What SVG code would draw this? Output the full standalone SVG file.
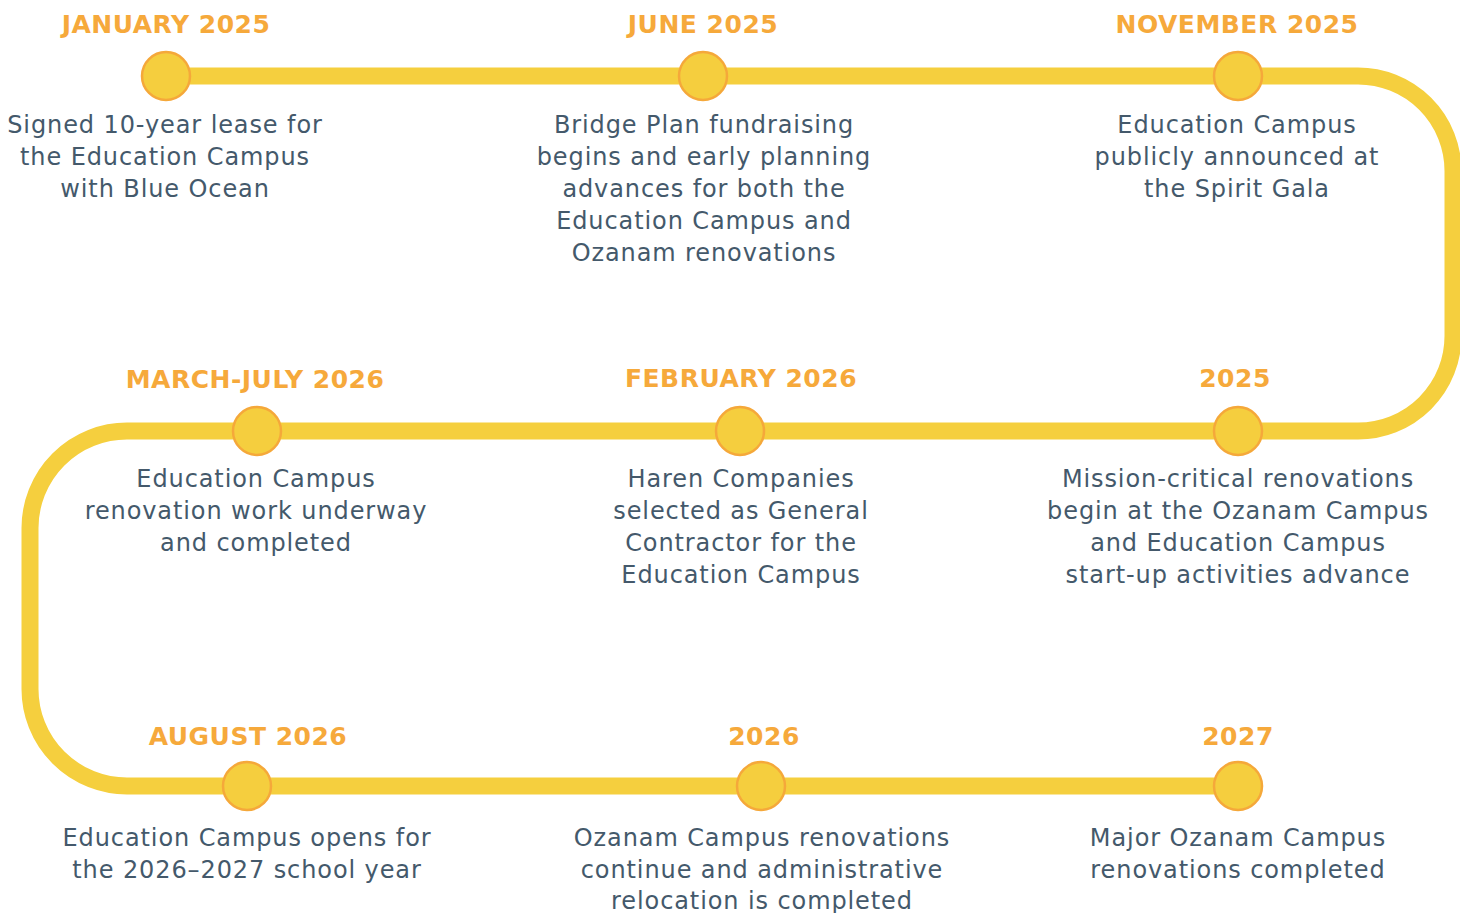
<svg xmlns="http://www.w3.org/2000/svg" width="1460" height="913" viewBox="0 0 1460 913">
<style>
.track{fill:none;stroke:#F5CF3E;stroke-width:17;stroke-linejoin:round}
.dot{fill:#F5CE3E;stroke:#F5A83A;stroke-width:2.5}
.hd{font-family:"DejaVu Sans","Liberation Sans",sans-serif;font-weight:bold;font-size:25px;letter-spacing:0.5px;fill:#F6A93B;text-anchor:middle}
.bd{font-family:"DejaVu Sans","Liberation Sans",sans-serif;font-size:24px;letter-spacing:0.9px;fill:#44596B;text-anchor:middle}
</style>
<rect width="1460" height="913" fill="#FFFFFF"/>
<g id="connectors">
<path class="track" d="M166,76 H1358 A95,95 0 0 1 1453,171 V336 A95,95 0 0 1 1358,431 H127 A97,97 0 0 0 30,528 V689 A97,97 0 0 0 127,786 H1238"/>
</g>
<g id="n1"><circle class="dot" cx="166" cy="76" r="24"/><text class="hd" x="166" y="33">JANUARY 2025</text>
<text class="bd" x="165" y="133">Signed 10-year lease for</text><text class="bd" x="165" y="165">the Education Campus</text><text class="bd" x="165" y="197">with Blue Ocean</text></g>
<g id="n2"><circle class="dot" cx="703" cy="76" r="24"/><text class="hd" x="703" y="33">JUNE 2025</text>
<text class="bd" x="704" y="133">Bridge Plan fundraising</text><text class="bd" x="704" y="165">begins and early planning</text><text class="bd" x="704" y="197">advances for both the</text><text class="bd" x="704" y="229">Education Campus and</text><text class="bd" x="704" y="261">Ozanam renovations</text></g>
<g id="n3"><circle class="dot" cx="1238" cy="76" r="24"/><text class="hd" x="1237" y="33">NOVEMBER 2025</text>
<text class="bd" x="1237" y="133">Education Campus</text><text class="bd" x="1237" y="165">publicly announced at</text><text class="bd" x="1237" y="197">the Spirit Gala</text></g>
<g id="n4"><circle class="dot" cx="1238" cy="431" r="24"/><text class="hd" x="1235" y="387">2025</text>
<text class="bd" x="1238" y="487">Mission-critical renovations</text><text class="bd" x="1238" y="519">begin at the Ozanam Campus</text><text class="bd" x="1238" y="551">and Education Campus</text><text class="bd" x="1238" y="583">start-up activities advance</text></g>
<g id="n5"><circle class="dot" cx="740" cy="431" r="24"/><text class="hd" x="741" y="387">FEBRUARY 2026</text>
<text class="bd" x="741" y="487">Haren Companies</text><text class="bd" x="741" y="519">selected as General</text><text class="bd" x="741" y="551">Contractor for the</text><text class="bd" x="741" y="583">Education Campus</text></g>
<g id="n6"><circle class="dot" cx="257" cy="431" r="24"/><text class="hd" x="255" y="388">MARCH-JULY 2026</text>
<text class="bd" x="256" y="487">Education Campus</text><text class="bd" x="256" y="519">renovation work underway</text><text class="bd" x="256" y="551">and completed</text></g>
<g id="n7"><circle class="dot" cx="247" cy="786" r="24"/><text class="hd" x="248" y="745">AUGUST 2026</text>
<text class="bd" x="247" y="846">Education Campus opens for</text><text class="bd" x="247" y="878">the 2026–2027 school year</text></g>
<g id="n8"><circle class="dot" cx="761" cy="786" r="24"/><text class="hd" x="764" y="745">2026</text>
<text class="bd" x="762" y="846">Ozanam Campus renovations</text><text class="bd" x="762" y="878">continue and administrative</text><text class="bd" x="762" y="909">relocation is completed</text></g>
<g id="n9"><circle class="dot" cx="1238" cy="786" r="24"/><text class="hd" x="1238" y="745">2027</text>
<text class="bd" x="1238" y="846">Major Ozanam Campus</text><text class="bd" x="1238" y="878">renovations completed</text></g>
</svg>
